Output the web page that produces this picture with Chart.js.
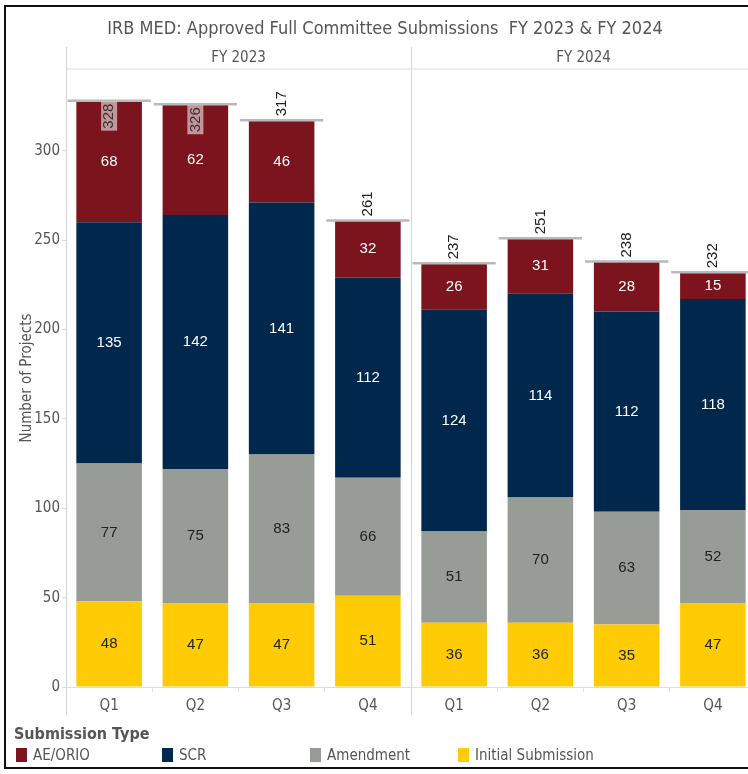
<!DOCTYPE html>
<html>
<head>
<meta charset="utf-8">
<script src="https://cdn.jsdelivr.net/npm/chart.js@4.4.1/dist/chart.umd.min.js"></script>
<style>
  html, body { margin:0; padding:0; background:#fff; width:748px; height:774px; overflow:hidden; position:relative; }
  #frame { position:absolute; left:4px; top:5px; width:760px; height:764px; border-left:2px solid #111; border-top:2px solid #111; border-bottom:2px solid #111; box-sizing:border-box; pointer-events:none; }
  #chartWrap { position:absolute; left:0; top:0; width:756px; height:774px; }
  #legend { position:absolute; left:14px; top:724px; font-family:'Liberation Sans Narrow','DejaVu Sans Condensed','Open Sans',sans-serif; color:#555; }
  #legend .ttl { font-size:16px; font-weight:bold; margin-bottom:3px; }
  #legend .item { position:absolute; top:22px; white-space:nowrap; font-size:15px; }
  #legend .sw { display:inline-block; width:11px; height:14px; vertical-align:-2px; margin-right:6px; }
</style>
</head>
<body>
<div id="chartWrap"><canvas id="c" width="756" height="774"></canvas></div>
<div id="legend"><div class="ttl">Submission Type</div></div>
<div id="frame"></div>
<script>
// ---- data ----
const quarters = ['Q1','Q2','Q3','Q4','Q1','Q2','Q3','Q4'];
const fiscalYears = ['FY 2023','FY 2024'];
const initialSubmission = [48,47,47,51,36,36,35,47];
const amendment = [77,75,83,66,51,70,63,52];
const scr = [135,142,141,112,124,114,112,118];
const aeOrio = [68,62,46,32,26,31,28,15];
const yTicks = [0,50,100,150,200,250,300];
const legendLabels = ['AE/ORIO','SCR','Amendment','Initial Submission'];

const COLORS = { ae:'#7b141c', scr:'#00274c', amd:'#989c97', init:'#ffcb05' };
const NARROW = "'Liberation Sans Narrow','DejaVu Sans Condensed','Open Sans',sans-serif";
const ARIAL = "'Liberation Sans', Arial, sans-serif";

const totals = quarters.map((q,i)=>initialSubmission[i]+amendment[i]+scr[i]+aeOrio[i]);

// HTML legend
const legColors = [COLORS.ae, COLORS.scr, COLORS.amd, COLORS.init];
const legX = [2, 148, 296, 444];
const legEl = document.getElementById('legend');
legendLabels.forEach((l,i)=>{
  const d = document.createElement('div');
  d.className='item'; d.style.left = legX[i]+'px';
  d.innerHTML = '<span class="sw" style="background:'+legColors[i]+'"></span>'+l;
  legEl.appendChild(d);
});

const decor = {
  id:'decor',
  beforeDatasetsDraw(chart){
    const {ctx, chartArea:a, scales:{x}} = chart;
    ctx.save();
    ctx.strokeStyle='#eeeeee'; ctx.lineWidth=2;
    ctx.beginPath(); ctx.moveTo(a.left, a.top); ctx.lineTo(a.right, a.top); ctx.stroke();
    const mid = (x.getPixelForValue(3)+x.getPixelForValue(4))/2;
    ctx.strokeStyle='#d6d6d6'; ctx.lineWidth=1;
    [a.left+0.5, Math.round(mid)+0.5].forEach(px=>{
      ctx.beginPath(); ctx.moveTo(px, 47); ctx.lineTo(px, 715); ctx.stroke();
    });
    ctx.fillStyle='#555'; ctx.font = '15px '+NARROW; ctx.textAlign='center'; ctx.textBaseline='middle';
    ctx.fillText(fiscalYears[0], (a.left+mid)/2, 58);
    ctx.fillText(fiscalYears[1], (mid+a.right)/2, 58);
    ctx.restore();
  },
  afterDatasetsDraw(chart){
    const {ctx, chartArea:a, scales:{x,y}} = chart;
    ctx.save();
    chart.data.datasets.forEach((ds,di)=>{
      const meta = chart.getDatasetMeta(di);
      meta.data.forEach((bar,i)=>{
        const v = ds.data[i];
        const cy = (bar.y + bar.base)/2;
        ctx.fillStyle = ds.labelColor;
        ctx.font = '15px '+ARIAL; ctx.textAlign='center'; ctx.textBaseline='middle';
        ctx.fillText(String(v), bar.x, cy);
      });
    });
    const catW = x.getPixelForValue(1)-x.getPixelForValue(0);
    totals.forEach((t,i)=>{
      const cx = x.getPixelForValue(i);
      const py = y.getPixelForValue(t);
      ctx.strokeStyle='#b9b9b9'; ctx.lineWidth=2.5;
      ctx.beginPath(); ctx.moveTo(cx-catW/2+1.5, py); ctx.lineTo(cx+catW/2-1.5, py); ctx.stroke();
      ctx.font='15px '+ARIAL;
      const tw = ctx.measureText(String(t)).width;
      ctx.save();
      ctx.translate(cx, py);
      ctx.rotate(-Math.PI/2);
      ctx.textBaseline='middle';
      if (py - tw - 5 < a.top + 14) {
        ctx.textAlign='right';
        ctx.fillStyle='rgba(255,255,255,0.55)';
        ctx.fillRect(-3-tw-2, -8, tw+4, 16);
        ctx.fillStyle='#333';
        ctx.fillText(String(t), -3, 0);
      } else {
        ctx.textAlign='left';
        ctx.fillStyle='#222';
        ctx.fillText(String(t), 4, 0);
      }
      ctx.restore();
    });
    ctx.restore();
  }
};

new Chart(document.getElementById('c'), {
  type:'bar',
  data:{
    labels: quarters,
    datasets:[
      {label:legendLabels[3], data:initialSubmission, backgroundColor:COLORS.init, labelColor:'#222'},
      {label:legendLabels[2], data:amendment, backgroundColor:COLORS.amd, labelColor:'#222'},
      {label:legendLabels[1], data:scr, backgroundColor:COLORS.scr, labelColor:'#fff'},
      {label:legendLabels[0], data:aeOrio, backgroundColor:COLORS.ae, labelColor:'#fff'}
    ]
  },
  options:{
    responsive:false,
    animation:false,
    layout:{ padding:{ left:14, right:0, top:0, bottom:0 } },
    datasets:{ bar:{ barPercentage:0.76, categoryPercentage:1.0, borderWidth:0 } },
    plugins:{
      legend:{ display:false },
      tooltip:{ enabled:false },
      title:{ display:true, text:'IRB MED: Approved Full Committee Submissions  FY 2023 & FY 2024',
        color:'#555', font:{ family:NARROW, size:18, weight:'normal' }, padding:{ top:19, bottom:28.4 } }
    },
    scales:{
      x:{
        stacked:true,
        afterFit(s){ s.height = 87; },
        grid:{ offset:true, drawOnChartArea:false, drawTicks:true, tickLength:5, color:'#e3e3e3' },
        border:{ display:true, color:'#dddddd' },
        ticks:{ color:'#555', font:{ family:NARROW, size:15 }, padding:5, maxRotation:0 }
      },
      y:{
        stacked:true, min:0, max:345.7,
        afterFit(s){ s.width = 52; },
        afterBuildTicks(s){ s.ticks = yTicks.map(v=>({value:v})); },
        grid:{ drawOnChartArea:false, drawTicks:true, tickLength:4, color:'#dddddd' },
        border:{ display:false },
        ticks:{ color:'#555', font:{ family:NARROW, size:15 }, padding:2 },
        title:{ display:true, text:'Number of Projects', color:'#555', font:{ family:NARROW, size:15 }, padding:{ top:4, bottom:0 } }
      }
    }
  },
  plugins:[decor]
});
</script>
</body>
</html>
